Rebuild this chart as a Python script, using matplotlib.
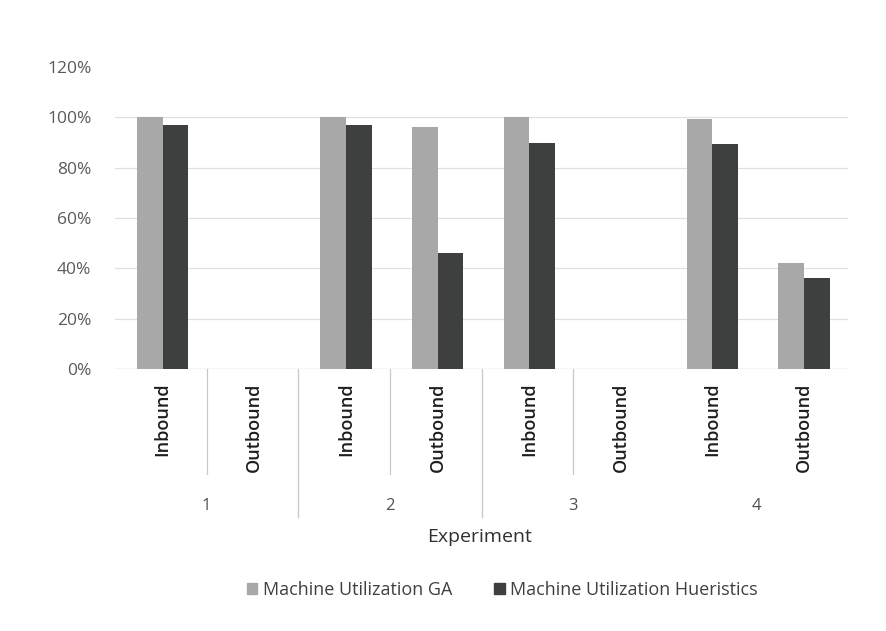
import numpy as np
import matplotlib.pyplot as plt
from matplotlib.patches import Patch

plt.rcParams['font.family'] = ['Open Sans', 'DejaVu Sans']

experiments = ['1', '2', '3', '4']
directions = ['Inbound', 'Outbound']
util_ga = [1.00, 0.00, 1.00, 0.96, 1.00, 0.00, 0.995, 0.42]
util_heur = [0.97, 0.00, 0.97, 0.46, 0.90, 0.00, 0.895, 0.36]

ga_color = '#a8a8a8'
heur_color = '#3e4040'

fig = plt.figure(figsize=(8.87, 6.31), dpi=100)
ax = fig.add_axes([0.1297, 0.4152, 0.8264, 0.4786])

x = np.arange(len(util_ga))
w = 0.28
ax.bar(x - w / 2 + 0.02, util_ga, w, color=ga_color, zorder=3)
ax.bar(x + w / 2 + 0.02, util_heur, w, color=heur_color, zorder=3)

ax.set_xlim(-0.5, len(x) - 0.5)
ax.set_ylim(0, 1.2)
ticks = np.arange(0, 1.21, 0.2)
ax.set_yticks(ticks)
ax.set_yticklabels([f'{int(round(v * 100))}%' for v in ticks],
                   fontsize=12.5, color='#5a5a5a')
for v in np.arange(0.2, 1.01, 0.2):
    ax.axhline(v, color='#e0e0e0', lw=0.9, zorder=1)
ax.axhline(0, color='#cccccc', lw=1.0, zorder=2)
for s in ax.spines.values():
    s.set_visible(False)
ax.tick_params(axis='y', length=0, pad=17)
ax.set_xticks([])

# two-level category axis below the bars
trans = ax.get_xaxis_transform()
for i in x:
    ax.text(i + 0.02, -0.045, directions[i % 2], rotation=90, ha='center', va='top',
            fontsize=13, fontweight='semibold', color='#1e1e1e', transform=trans)
for g, name in enumerate(experiments):
    ax.text(2 * g + 0.5, -0.455, name, ha='center', va='center',
            fontsize=12, color='#505050', transform=trans)

# separators between categories (short) and between experiments (long)
for pos, depth in [(0.5, -0.347), (1.5, -0.49), (2.5, -0.347), (3.5, -0.49), (4.5, -0.347)]:
    ax.plot([pos, pos], [0, depth], color='#c8c8c8', lw=0.9,
            transform=trans, clip_on=False)

fig.text(0.541, 1 - 537 / 631, 'Experiment', ha='center', va='center',
         fontsize=14, color='#303030')

handles = [Patch(color=ga_color, label='Machine Utilization GA'),
           Patch(color=heur_color, label='Machine Utilization Hueristics')]
fig.legend(handles=handles, loc='center', bbox_to_anchor=(0.566, 1 - 590 / 631),
           ncol=2, frameon=False, fontsize=13, handlelength=0.6, handleheight=0.6,
           handletextpad=0.3, columnspacing=2.3, labelcolor='#404040')

fig.savefig('out.png', dpi=100)
